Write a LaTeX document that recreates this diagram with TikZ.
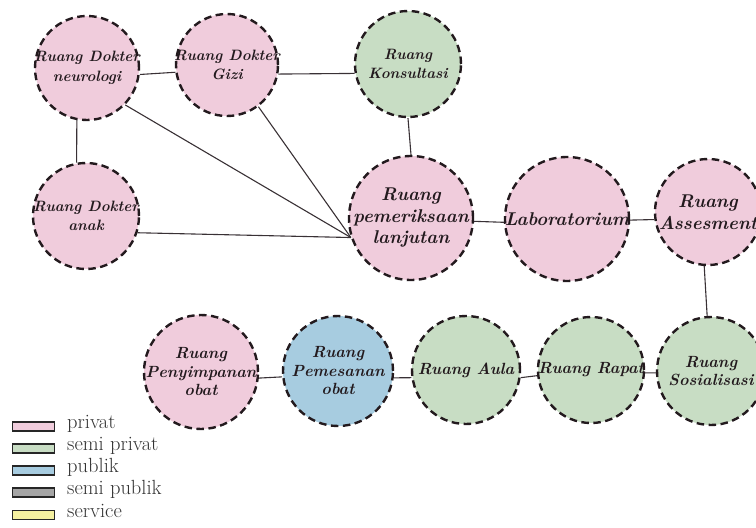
\documentclass[tikz,border=0pt]{standalone}
\usepackage{fontspec}
\begin{document}
\definecolor{privatc}{RGB}{240,204,220}
\definecolor{semiprivatc}{RGB}{200,221,196}
\definecolor{publikc}{RGB}{167,204,224}
\definecolor{semipublikc}{RGB}{165,165,165}
\definecolor{servicec}{RGB}{244,240,160}
\definecolor{inkc}{RGB}{35,26,30}
\begin{tikzpicture}[x=1pt,y=-1pt,
  room/.style={circle, draw=inkc, line width=2.4pt,
    dash pattern=on 7.5pt off 4.5pt, inner sep=0pt},
  txtsmall/.style={align=center, text=inkc,
    font=\fontsize{15}{19.5}\selectfont\bfseries\itshape},
  txtbig/.style={align=center, text=inkc,
    font=\fontsize{18.5}{21.5}\selectfont\bfseries\itshape},
  txtrow/.style={align=center, text=inkc,
    font=\fontsize{16.2}{18.5}\selectfont\bfseries\itshape},
  link/.style={draw=inkc!90, line width=1.1pt},
  legbox/.style={draw=black!85, line width=1.4pt, minimum width=42pt,
    minimum height=9pt, inner sep=0pt},
  legtext/.style={anchor=mid west, inner sep=0pt, text=black!80,
    font=\fontsize{20.5}{22}\selectfont}]
\useasboundingbox (0,0) rectangle (756,528);

% upper cluster of rooms
\node[room, fill=privatc, minimum size=104pt,
  label={[txtsmall]center:{Ruang Dokter\\neurologi}}] (neuro) at (87,68) {};
\node[room, fill=privatc, minimum size=102pt,
  label={[txtsmall]center:{Ruang Dokter\\Gizi}}] (gizi) at (227,65) {};
\node[room, fill=semiprivatc, minimum size=106pt,
  label={[txtsmall]center:{Ruang\\Konsultasi}}] (kons) at (408,64) {};
\node[room, fill=privatc, minimum size=106pt,
  label={[txtsmall]center:{Ruang Dokter\\anak}}] (anak) at (86,216) {};
\node[room, fill=privatc, minimum size=124pt,
  label={[txtbig]center:{Ruang\\pemeriksaan\\lanjutan}}] (pem) at (411,218) {};
\node[room, fill=privatc, minimum size=124pt,
  label={[txtbig]center:{Laboratorium}}] (lab) at (567,219) {};
\node[room, fill=privatc, minimum size=106pt,
  label={[txtbig]center:{Ruang\\Assesment}}] (ases) at (708,212) {};

% lower row of rooms
\node[room, fill=semiprivatc, minimum size=108pt,
  label={[txtrow]center:{Ruang\\Sosialisasi}}] (sos) at (711,371) {};
\node[room, fill=semiprivatc, minimum size=106pt,
  label={[txtrow]center:{Ruang Rapat}}] (rapat) at (591,370) {};
\node[room, fill=semiprivatc, minimum size=108pt,
  label={[txtrow]center:{Ruang Aula}}] (aula) at (466,370) {};
\node[room, fill=publikc, minimum size=110pt,
  label={[txtrow]center:{Ruang\\Pemesanan\\obat}}] (pesan) at (338,371) {};
\node[room, fill=privatc, minimum size=114pt,
  label={[txtrow]center:{Ruang\\Penyimpanan\\obat}}] (simpan) at (201,372) {};

% connections between rooms
\draw[link] (neuro.-7) -- (gizi.188);
\draw[link] (gizi.-10) -- (kons.190);
\draw[link] (neuro.259) -- (anak.100);
\draw[link] (neuro.-44) -- (pem.198);
\draw[link] (gizi.-53) -- (pem.198);
\draw[link] (anak.-18) -- (pem.198);
\draw[link] (kons.south) -- (pem.north);
\draw[link] (pem.-3) -- (lab.183);
\draw[link] (lab.-1) -- (ases.188);
\draw[link] (ases.266) -- (sos.94);
\draw[link] (sos.182) -- (rapat.-3);
\draw[link] (rapat.186) -- (aula.-8);
\draw[link] (aula.188) -- (pesan.-7);
\draw[link] (pesan.186) -- (simpan.-6);

% legend
\node[legbox, fill=privatc] (kpriv) at (33.5,426.5) {};
\node[legbox, fill=semiprivatc] (ksemipriv) at (33.5,448.5) {};
\node[legbox, fill=publikc] (kpub) at (33.5,470.5) {};
\node[legbox, fill=semipublikc] (ksemipub) at (33.5,492.5) {};
\node[legbox, fill=servicec] (kserv) at (33.5,515) {};
\node[legtext] (tpriv) at (67,426.5) {privat};
\node[legtext] (tsemipriv) at (67,448.5) {semi privat};
\node[legtext] (tpub) at (67,470.5) {publik};
\node[legtext] (tsemipub) at (67,492.5) {semi publik};
\node[legtext] (tserv) at (67,515) {service};
\end{tikzpicture}
\end{document}
